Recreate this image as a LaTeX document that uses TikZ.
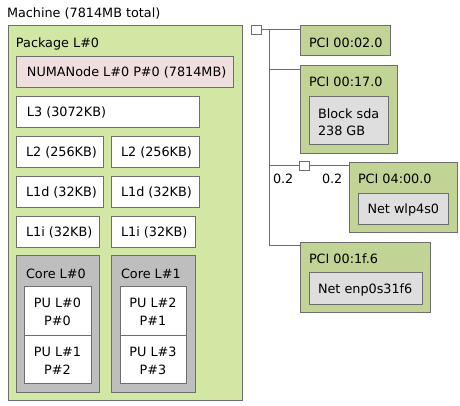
\documentclass[tikz,border=0pt]{standalone}
\usepackage{fontspec}
\setmainfont{DejaVu Sans}
\definecolor{bordc}{HTML}{6E6E6E}
\definecolor{pkgc}{HTML}{D2E7A4}
\definecolor{numac}{HTML}{EFDFDE}
\definecolor{corec}{HTML}{BEBEBE}
\definecolor{pcic}{HTML}{C2D495}
\definecolor{osdc}{HTML}{DEDEDE}
\tikzset{
  box/.style={draw=bordc, line width=1pt, inner sep=0pt, outer sep=0pt, anchor=north west},
  txt/.style={anchor=base west, inner sep=0pt, outer sep=0pt},
  mtxt/.style={inner sep=0pt, outer sep=0pt},
  link/.style={draw=bordc, line width=1pt},
}
\newcommand\bx[6]{\node[box,fill=#2,minimum width=#5pt,minimum height=#6pt] (#1) at (#3,#4) {};}
\begin{document}
\begin{tikzpicture}[x=1pt,y=-1pt,font=\fontsize{12.8}{18}\selectfont]
\useasboundingbox[fill=white] (0,0) rectangle (460,405);
% boxes
\bx{pkg}{pkgc}{8}{25}{234}{375}
\bx{numa}{numac}{16}{56}{217}{31}
\bx{lthree}{white}{16}{96}{183}{31}
\bx{ltwoa}{white}{16}{136}{87}{31}
\bx{ltwob}{white}{111}{136}{88}{31}
\bx{ldataa}{white}{16}{176}{87}{31}
\bx{ldatab}{white}{111}{176}{88}{31}
\bx{linsa}{white}{16}{216}{83}{31}
\bx{linsb}{white}{111}{216}{84}{31}
\bx{corea}{corec}{16}{255}{83}{137}
\bx{coreb}{corec}{111}{255}{84}{137}
\bx{pua}{white}{24}{286}{67}{49}
\bx{pub}{white}{24}{335}{67}{48}
\bx{puc}{white}{120}{286}{66}{49}
\bx{pud}{white}{120}{335}{66}{48}
\bx{pcia}{pcic}{300}{25}{90}{30}
\bx{pcib}{pcic}{300}{65}{97}{88}
\bx{blk}{osdc}{309}{96}{79}{48}
\bx{pcic}{pcic}{349}{162}{108}{70}
\bx{neta}{osdc}{358}{193}{90}{31}
\bx{pcid}{pcic}{300}{242}{130}{70}
\bx{netb}{osdc}{309}{272}{113}{32}
% connectors
\bx{hubb}{white}{299}{161}{10}{9}
\coordinate (bustop) at (269,29.5);
\coordinate (busb) at (269,69);
\coordinate (busc) at (269,165.5);
\coordinate (busd) at (269,245);
\draw[link] (bustop) -- (busd) -- (busd -| pcid.west);
\draw[link] (busb) -- (busb -| pcib.west);
\draw[link] (busc) -- (hubb.west);
\draw[link] (hubb.east) -- (hubb.east -| pcic.west);
\bx{huba}{white}{251}{25}{10}{9}
\draw[link] (huba.east) -- (huba.east -| pcia.west);
% texts
\node[txt] (tmach) at (7,17.1) {Machine (7814MB total)};
\node[txt] (tpkg) at (16,47.6) {Package L\#0};
\node[txt] (tnuma) at (27,76.7) {NUMANode L\#0 P\#0 (7814MB)};
\node[txt] (tlthree) at (27,116) {L3 (3072KB)};
\node[txt] (tltwoa) at (26,156) {L2 (256KB)};
\node[txt] (tltwob) at (121,156) {L2 (256KB)};
\node[txt] (tldataa) at (26,196) {L1d (32KB)};
\node[txt] (tldatab) at (121,196) {L1d (32KB)};
\node[txt] (tlinsa) at (26,236) {L1i (32KB)};
\node[txt] (tlinsb) at (121,236) {L1i (32KB)};
\node[txt] (tcorea) at (26,278.6) {Core L\#0};
\node[txt] (tcoreb) at (121,278.6) {Core L\#1};
\node[mtxt,align=center] (tpua) at (57.5,312) {PU L\#0\\P\#0};
\node[mtxt,align=center] (tpub) at (57.5,361) {PU L\#1\\P\#2};
\node[mtxt,align=center] (tpuc) at (153,312) {PU L\#2\\P\#1};
\node[mtxt,align=center] (tpud) at (153,361) {PU L\#3\\P\#3};
\node[txt] (tpcia) at (309,47.5) {PCI 00:02.0};
\node[txt] (tpcib) at (309,86.5) {PCI 00:17.0};
\node[mtxt,align=left,anchor=west,font=\fontsize{12.8}{17}\selectfont] (tblk) at (318,122.5) {Block sda\\238 GB};
\node[txt] (tpcic) at (358,183.6) {PCI 04:00.0};
\node[txt] (tneta) at (367.5,213.6) {Net wlp4s0};
\node[txt] (tpcid) at (309,263.8) {PCI 00:1f.6};
\node[txt] (tnetb) at (318,293.6) {Net enp0s31f6};
\node[txt] (tbwa) at (273,183.6) {0.2};
\node[txt] (tbwb) at (322,183.6) {0.2};
\end{tikzpicture}
\end{document}
